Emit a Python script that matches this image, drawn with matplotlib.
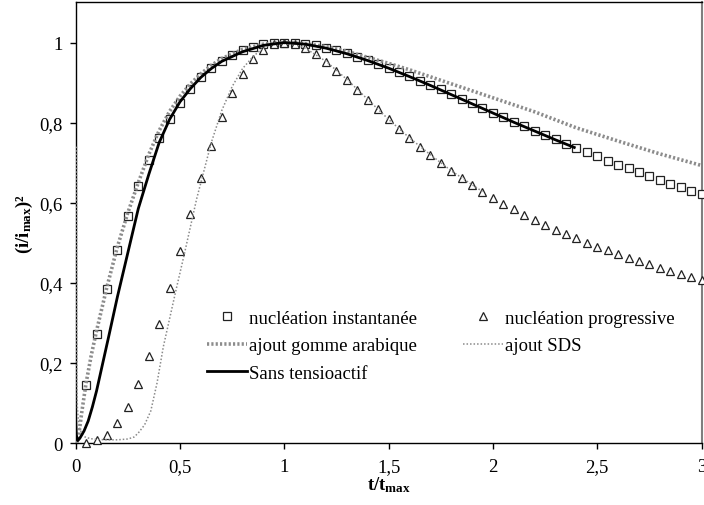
import matplotlib
matplotlib.use("Agg")
import matplotlib.pyplot as plt

plt.rcParams['font.family'] = ['Liberation Serif', 'DejaVu Serif']
plt.rcParams['mathtext.fontset'] = 'custom'
plt.rcParams['mathtext.rm'] = 'Liberation Serif'
plt.rcParams['mathtext.it'] = 'Liberation Serif:italic'
plt.rcParams['mathtext.bf'] = 'Liberation Serif:bold'

# ---- data ----
t_theory = [0.05, 0.10, 0.15, 0.20, 0.25, 0.30, 0.35, 0.40, 0.45, 0.50,
            0.55, 0.60, 0.65, 0.70, 0.75, 0.80, 0.85, 0.90, 0.95, 1.00,
            1.05, 1.10, 1.15, 1.20, 1.25, 1.30, 1.35, 1.40, 1.45, 1.50,
            1.55, 1.60, 1.65, 1.70, 1.75, 1.80, 1.85, 1.90, 1.95, 2.00,
            2.05, 2.10, 2.15, 2.20, 2.25, 2.30, 2.35, 2.40, 2.45, 2.50,
            2.55, 2.60, 2.65, 2.70, 2.75, 2.80, 2.85, 2.90, 2.95, 3.00]
instantanee = [0.145, 0.272, 0.384, 0.483, 0.568, 0.642, 0.707, 0.762, 0.810, 0.850,
               0.885, 0.913, 0.937, 0.955, 0.970, 0.982, 0.990, 0.996, 0.999, 1.000,
               0.999, 0.997, 0.993, 0.987, 0.981, 0.974, 0.965, 0.957, 0.947, 0.937,
               0.927, 0.916, 0.905, 0.894, 0.883, 0.871, 0.860, 0.848, 0.837, 0.825,
               0.814, 0.802, 0.791, 0.780, 0.769, 0.758, 0.747, 0.736, 0.726, 0.716,
               0.705, 0.695, 0.686, 0.676, 0.667, 0.657, 0.648, 0.639, 0.630, 0.622]
progressive = [0.001, 0.007, 0.021, 0.049, 0.091, 0.147, 0.217, 0.298, 0.387, 0.480,
               0.572, 0.661, 0.742, 0.814, 0.874, 0.922, 0.958, 0.982, 0.996, 1.000,
               0.996, 0.986, 0.971, 0.952, 0.930, 0.907, 0.882, 0.857, 0.833, 0.808,
               0.785, 0.762, 0.740, 0.719, 0.699, 0.680, 0.662, 0.645, 0.628, 0.613,
               0.598, 0.584, 0.570, 0.557, 0.545, 0.533, 0.521, 0.511, 0.500, 0.490,
               0.481, 0.471, 0.462, 0.454, 0.446, 0.438, 0.430, 0.423, 0.415, 0.408]

gomme_t = [0.005, 0.012, 0.02, 0.03, 0.05, 0.075, 0.1, 0.15, 0.2, 0.25, 0.3, 0.35,
           0.4, 0.45, 0.5, 0.55, 0.6, 0.65, 0.7, 0.8, 0.9, 1.0, 1.1, 1.2, 1.3, 1.4,
           1.5, 1.6, 1.8, 2.0, 2.2, 2.4, 2.6, 2.8, 3.0]
gomme_y = [0.0, 0.01, 0.04, 0.08, 0.15, 0.22, 0.28, 0.39, 0.49, 0.575, 0.65, 0.72,
           0.78, 0.828, 0.866, 0.897, 0.922, 0.943, 0.96, 0.983, 0.996, 1.0, 0.997,
           0.99, 0.978, 0.963, 0.948, 0.932, 0.897, 0.862, 0.827, 0.787, 0.754, 0.722, 0.693]

sds_t = [0.004, 0.005, 0.006, 0.008, 0.012, 0.02, 0.03, 0.045, 0.07, 0.1, 0.15,
         0.2, 0.25, 0.28, 0.3, 0.33, 0.36, 0.39, 0.42, 0.45, 0.48, 0.52, 0.55, 0.58,
         0.62, 0.65, 0.7, 0.75, 0.8, 0.85, 0.9, 0.95, 1.0, 1.05, 1.1, 1.2, 1.3, 1.4,
         1.5, 1.6, 1.7, 1.8, 1.9, 1.95]
sds_y = [0.74, 0.30, 0.15, 0.09, 0.06, 0.035, 0.022, 0.015, 0.011, 0.009, 0.008,
         0.008, 0.01, 0.015, 0.025, 0.045, 0.08, 0.15, 0.24, 0.31, 0.38, 0.47, 0.54,
         0.61, 0.69, 0.75, 0.83, 0.89, 0.935, 0.965, 0.987, 0.998, 1.0, 0.996, 0.986,
         0.953, 0.908, 0.858, 0.808, 0.762, 0.72, 0.68, 0.645, 0.628]

sans_t = [0.0, 0.003, 0.01, 0.02, 0.04, 0.06, 0.08, 0.1, 0.13, 0.16, 0.2, 0.25, 0.3,
          0.35, 0.4, 0.45, 0.5, 0.55, 0.6, 0.65, 0.7, 0.8, 0.9, 1.0, 1.1, 1.2, 1.3,
          1.4, 1.5, 1.6, 1.7, 1.8, 1.9, 2.0, 2.1, 2.2, 2.3, 2.39]
sans_y = [0.06, 0.02, 0.006, 0.012, 0.03, 0.055, 0.09, 0.13, 0.2, 0.27, 0.365, 0.475,
          0.585, 0.67, 0.75, 0.808, 0.852, 0.885, 0.913, 0.935, 0.953, 0.977, 0.993,
          1.0, 0.996, 0.986, 0.972, 0.955, 0.936, 0.915, 0.893, 0.87, 0.847, 0.824,
          0.801, 0.779, 0.757, 0.738]

xticks = [0, 0.5, 1, 1.5, 2, 2.5, 3]
xticklabels = ['0', '0,5', '1', '1,5', '2', '2,5', '3']
yticks = [0, 0.2, 0.4, 0.6, 0.8, 1.0]
yticklabels = ['0', '0,2', '0,4', '0,6', '0,8', '1']

labels = ['nucléation instantanée', 'ajout gomme arabique', 'Sans tensioactif',
          'nucléation progressive', 'ajout SDS']

FS = 13.5

# ---- figure ----
fig = plt.figure(figsize=(7.04, 5.06), dpi=100)
ax = fig.add_axes([0.1075, 0.1225, 0.8890, 0.8706])

ms = 5.4
h_inst, = ax.plot(t_theory, instantanee, linestyle='none', marker='s', ms=ms,
                  mfc='white', mec='#222222', mew=0.9, clip_on=False, zorder=3)
h_prog, = ax.plot(t_theory, progressive, linestyle='none', marker='^', ms=ms + 0.6,
                  mfc='white', mec='#222222', mew=0.9, clip_on=False, zorder=3)
h_gom, = ax.plot(gomme_t, gomme_y, color='#8c8c8c', lw=2.6,
                 linestyle=(0, (0.6, 0.6)), zorder=4)
h_sds, = ax.plot(sds_t, sds_y, color='#8a8a8a', lw=1.1,
                 linestyle=(0, (1, 1.3)), zorder=4)
h_sans, = ax.plot(sans_t, sans_y, color='black', lw=2.0, zorder=5)

ax.set_xlim(0, 3)
ax.set_ylim(0, 1.1)
ax.set_xticks(xticks)
ax.set_xticklabels(xticklabels)
ax.set_yticks(yticks)
ax.set_yticklabels(yticklabels)
ax.tick_params(axis='both', direction='out', length=4.5, width=1, labelsize=FS,
               color='black')
ax.tick_params(axis='x', pad=6)
ax.tick_params(axis='y', pad=5)
for s in ['left', 'bottom', 'top']:
    ax.spines[s].set_color('black')
    ax.spines[s].set_linewidth(1.0)
ax.spines['right'].set_color('#7f7f7f')
ax.spines['right'].set_linewidth(1.5)

ax.set_xlabel(r't/t$_{\mathbf{max}}$', fontsize=FS, fontweight='bold', labelpad=0)
ax.set_ylabel(r'(i/i$_{\mathbf{max}}$)²', fontsize=FS, fontweight='bold', labelpad=3)

ax.legend([h_inst, h_gom, h_sans, h_prog, h_sds], labels, ncol=2,
          loc='upper left', bbox_to_anchor=(0.21, 0.303), frameon=False,
          fontsize=FS, handlelength=2.13, handletextpad=0.08, columnspacing=2.5,
          labelspacing=0.55, borderpad=0, borderaxespad=0, numpoints=1)

fig.savefig('out.png', dpi=100)
